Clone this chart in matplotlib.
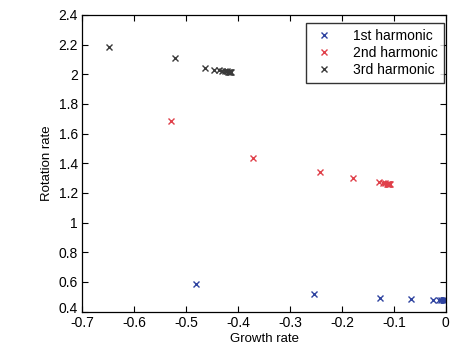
import matplotlib.pyplot as plt
import matplotlib.transforms as mtransforms

plt.rcParams['font.family'] = ['Liberation Sans', 'DejaVu Sans']

h1_growth = [-0.481, -0.254, -0.126, -0.068, -0.024, -0.014, -0.009, -0.006, -0.004, -0.003, -0.002, -0.001, 0.0]
h1_rot = [0.586, 0.517, 0.490, 0.484, 0.480, 0.479, 0.478, 0.478, 0.478, 0.478, 0.478, 0.478, 0.478]

h2_growth = [-0.529, -0.372, -0.242, -0.179, -0.128, -0.121, -0.117, -0.114, -0.112, -0.111, -0.110, -0.109, -0.108]
h2_rot = [1.687, 1.434, 1.341, 1.302, 1.272, 1.266, 1.264, 1.263, 1.262, 1.262, 1.262, 1.262, 1.262]

h3_growth = [-0.649, -0.521, -0.463, -0.447, -0.437, -0.430, -0.425, -0.421, -0.419, -0.417, -0.416, -0.415, -0.414]
h3_rot = [2.182, 2.108, 2.042, 2.032, 2.026, 2.022, 2.020, 2.019, 2.018, 2.018, 2.018, 2.018, 2.018]

labels = ["1st harmonic", "2nd harmonic", "3rd harmonic"]
colors = ["#2f43a0", "#e0404a", "#3a3a3a"]

fig = plt.figure(figsize=(4.54, 3.47), dpi=100)
ax = fig.add_axes([0.181, 0.102, 0.801, 0.855])

for gx, ry, lab, c in zip([h1_growth, h2_growth, h3_growth], [h1_rot, h2_rot, h3_rot], labels, colors):
    ax.plot(gx, ry, linestyle="none", marker="x", markersize=5, markeredgewidth=1.0, color=c, label=lab)

ax.set_xlim(-0.7, 0)
ax.set_ylim(0.4, 2.4)
ax.set_xticks([-0.7, -0.6, -0.5, -0.4, -0.3, -0.2, -0.1, 0])
ax.set_xticklabels(["-0.7", "-0.6", "-0.5", "-0.4", "-0.3", "-0.2", "-0.1", "0"])
ax.set_yticks([0.4, 0.6, 0.8, 1, 1.2, 1.4, 1.6, 1.8, 2, 2.2, 2.4])
ax.set_yticklabels(["0.4", "0.6", "0.8", "1", "1.2", "1.4", "1.6", "1.8", "2", "2.2", "2.4"])
ax.tick_params(direction="in", top=True, right=True, labelsize=10, length=4, width=0.8, pad=3)
ax.set_xlabel("Growth rate", fontsize=9.5, labelpad=2)
ax.set_ylabel("Rotation rate", fontsize=9.5, labelpad=4)
for s in ax.spines.values():
    s.set_linewidth(0.9)

# MATLAB puts the bottom y label slightly above the corner
lab0 = ax.get_yticklabels()[0]
lab0.set_transform(lab0.get_transform() + mtransforms.ScaledTranslation(0, 4 / 100, fig.dpi_scale_trans))

ax.legend(loc="upper right", fontsize=10, frameon=True, fancybox=False, edgecolor="black",
          borderpad=0.45, handletextpad=1.3, labelspacing=0.2, handlelength=1.6,
          borderaxespad=0, bbox_to_anchor=(0.9945, 0.973))

plt.savefig("out.png", dpi=100)
plt.close()
